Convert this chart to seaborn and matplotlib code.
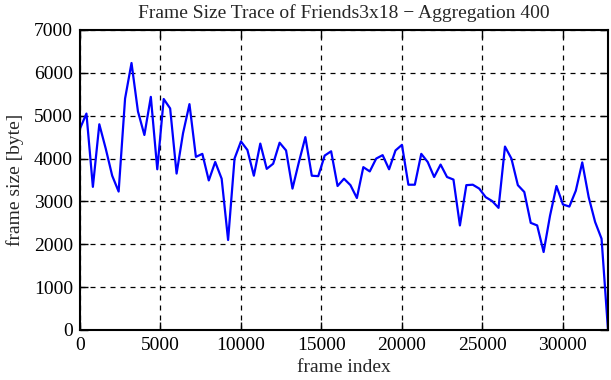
import numpy as np
import pandas as pd
import matplotlib
matplotlib.use("Agg")
import matplotlib.pyplot as plt
import seaborn as sns

# aggregated frame sizes, one value per 400 frames
step = 400
frame_size = [
    4700, 5050, 3340, 4800, 4230, 3600, 3230, 5400, 6230, 5100,
    4550, 5440, 3750, 5390, 5170, 3650, 4590, 5270, 4040, 4110,
    3490, 3920, 3530, 2100, 4000, 4400, 4200, 3600, 4350, 3760,
    3880, 4370, 4190, 3300, 3920, 4500, 3600, 3590, 4070, 4170,
    3360, 3530, 3380, 3080, 3800, 3700, 4000, 4080, 3750, 4190,
    4320, 3390, 3390, 4110, 3920, 3570, 3860, 3570, 3510, 2440,
    3380, 3390, 3300, 3100, 3010, 2850, 4280, 4000, 3380, 3220,
    2500, 2440, 1820, 2670, 3360, 2930, 2880, 3250, 3910, 3100,
    2520, 2130, 0,
]
frame_index = [i * step for i in range(len(frame_size))]

df = pd.DataFrame({"frame index": frame_index, "frame size": frame_size})

sns.set_style("ticks")
plt.rcParams["font.family"] = ["Liberation Serif", "DejaVu Serif"]

fs = 14
fig = plt.figure(figsize=(6.11, 3.80), dpi=100)
ax = fig.add_axes([80 / 611, 50 / 380, 528 / 611, 300 / 380])

sns.lineplot(data=df, x="frame index", y="frame size", color="#0000ff",
             linewidth=1.6, ax=ax)

ax.set_xlim(0, 32800)
ax.set_ylim(0, 7000)
ax.set_xticks(range(0, 30001, 5000))
ax.set_yticks(range(0, 7001, 1000))
ax.grid(True, color="black", linestyle=(0, (4, 4)), linewidth=0.9)
ax.tick_params(direction="in", length=6, width=1, top=True, right=True,
               labelsize=fs, colors="black", pad=5)
for s in ax.spines.values():
    s.set_linewidth(1.5)
    s.set_color("black")

ax.set_xlabel("frame index", fontsize=fs, labelpad=4)
ax.set_ylabel("frame size [byte]", fontsize=fs, labelpad=7)
ax.set_title("Frame Size Trace of Friends3x18 \u2212 Aggregation 400",
             fontsize=fs, pad=9)

fig.savefig("out.png", dpi=100)
